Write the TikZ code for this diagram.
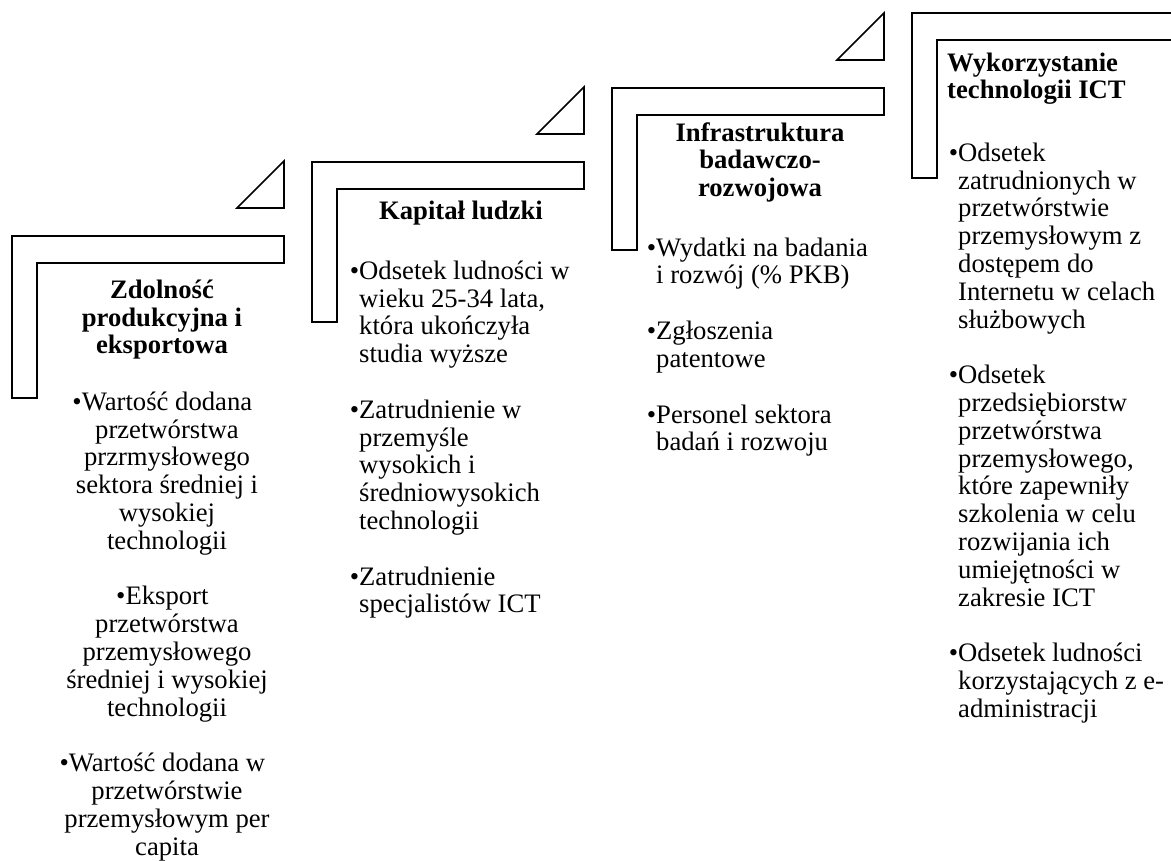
\documentclass[tikz,border=0pt]{standalone}
\usepackage{fontspec}
\setmainfont{Liberation Serif}
\newcommand{\fr}{\rule{0pt}{20pt}}
\newcommand{\bu}{\llap{•}}
\begin{document}
\begin{tikzpicture}[x=1pt,y=-1pt,
  stepshape/.style={draw=black, line width=1.6pt, fill=white, line join=miter},
  ttl/.style={font=\fontsize{26.67pt}{27.8pt}\selectfont\bfseries, inner sep=0pt, align=center, anchor=north},
  ttlleft/.style={font=\fontsize{26.67pt}{27.8pt}\selectfont\bfseries, inner sep=0pt, align=left, anchor=north west},
  bodyl/.style={font=\fontsize{26.67pt}{27.8pt}\selectfont, inner sep=0pt, align=left, anchor=north west},
  bodyc/.style={font=\fontsize{26.67pt}{27.8pt}\selectfont, inner sep=0pt, align=center, anchor=north}]
\useasboundingbox (0,0) rectangle (1171,861);
\clip (0,0) rectangle (1171,861);
% step shapes
\draw[stepshape] (12,236) -- (284,236) -- (284,263) -- (37,263) -- (37,398) -- (12,398) -- cycle;
\draw[stepshape] (312,162) -- (584,162) -- (584,189) -- (337,189) -- (337,322) -- (312,322) -- cycle;
\draw[stepshape] (612,88) -- (884,88) -- (884,115) -- (637,115) -- (637,250) -- (612,250) -- cycle;
\draw[stepshape] (912,13) -- (1184,13) -- (1184,40) -- (937,40) -- (937,178) -- (912,178) -- cycle;
% triangles
\draw[stepshape] (284,161) -- (284,208) -- (237,208) -- cycle;
\draw[stepshape] (584,87) -- (584,134) -- (537,134) -- cycle;
\draw[stepshape] (884,13) -- (884,60) -- (837,60) -- cycle;
% column 1
\node[ttl] (t1) at (162,278) {\fr Zdolność\\produkcyjna i\\eksportowa};
\node[bodyc] (b1a) at (167,390) {\fr\bu Wartość dodana\\przetwórstwa\\przrmysłowego\\sektora średniej i\\wysokiej\\technologii};
\node[bodyc] (b1b) at (167,584.6) {\fr\bu Eksport\\przetwórstwa\\przemysłowego\\średniej i wysokiej\\technologii};
\node[bodyc] (b1c) at (167,751.4) {\fr\bu Wartość dodana w\\przetwórstwie\\przemysłowym per\\capita};
% column 2
\node[ttl] (t2) at (461,199) {\fr Kapitał ludzki};
\node[bodyl] (b2a) at (359,259) {\fr\bu Odsetek ludności w\\wieku 25-34 lata,\\która ukończyła\\studia wyższe};
\node[bodyl] (b2b) at (359,398) {\fr\bu Zatrudnienie w\\przemyśle\\wysokich i\\średniowysokich\\technologii};
\node[bodyl] (b2c) at (359,564.8) {\fr\bu Zatrudnienie\\specjalistów ICT};
% column 3
\node[ttl] (t3) at (760,121) {\fr Infrastruktura\\badawczo-\\rozwojowa};
\node[bodyl] (b3a) at (656,236) {\fr\bu Wydatki na badania\\i rozwój (\% PKB)};
\node[bodyl] (b3b) at (656,319.4) {\fr\bu Zgłoszenia\\patentowe};
\node[bodyl] (b3c) at (656,402.8) {\fr\bu Personel sektora\\badań i rozwoju};
% column 4
\node[ttlleft] (t4) at (947,51) {\fr Wykorzystanie\\technologii ICT};
\node[bodyl] (b4a) at (958,141) {\fr\bu Odsetek\\zatrudnionych w\\przetwórstwie\\przemysłowym z\\dostępem do\\Internetu w celach\\służbowych};
\node[bodyl] (b4b) at (958,363.4) {\fr\bu Odsetek\\przedsiębiorstw\\przetwórstwa\\przemysłowego,\\które zapewniły\\szkolenia w celu\\rozwijania ich\\umiejętności w\\zakresie ICT};
\node[bodyl] (b4c) at (958,641.4) {\fr\bu Odsetek ludności\\korzystających z e-\\administracji};
\end{tikzpicture}
\end{document}
